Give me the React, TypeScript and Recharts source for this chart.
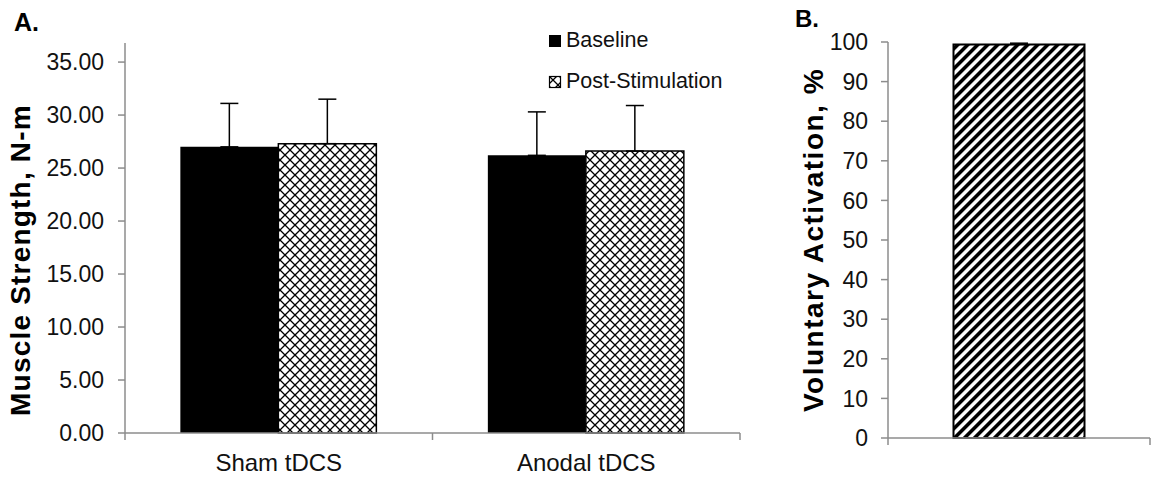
import React from 'react'
import { Bar, BarChart, ErrorBar, Label, XAxis, YAxis } from 'recharts'

// panel A: muscle strength
const conditions = ['Sham tDCS', 'Anodal tDCS']
const baseline = [27.0, 26.2]
const baselineErr = [4.1, 4.1]
const postStim = [27.3, 26.6]
const postStimErr = [4.2, 4.3]
const strengthTicks = [0, 5, 10, 15, 20, 25, 30, 35]

// panel B: voluntary activation
const activation = [99.4]
const activationErr = [0.3]
const activationTicks = [0, 10, 20, 30, 40, 50, 60, 70, 80, 90, 100]

const strengthData = conditions.map((c, i) => ({
  name: c,
  baseline: baseline[i],
  baselineErr: [0, baselineErr[i]],
  postStim: postStim[i],
  postStimErr: [0, postStimErr[i]],
}))

const activationData = activation.map((v, i) => ({
  name: '',
  value: v,
  err: [0, activationErr[i]],
}))

const FONT = '"Liberation Sans", Arial, Helvetica, sans-serif'
const AXIS = '#8c8c8c'

// excel style category axis: ticks on the category boundaries
const BoundaryTick = (props: any) => {
  const { x, y, index, visibleTicksCount, width, payload, showText } = props
  const band = width / visibleTicksCount
  const left = x - band / 2
  const right = x + band / 2
  return (
    <g>
      <line x1={left} y1={y} x2={left} y2={y + 7} stroke={AXIS} strokeWidth={1.5} />
      {index === visibleTicksCount - 1 && (
        <line x1={right} y1={y} x2={right} y2={y + 7} stroke={AXIS} strokeWidth={1.5} />
      )}
      {showText && (
        <text x={x} y={y + 29} textAnchor="middle" dominantBaseline="central" fontSize={24} fill="#111" fontFamily={FONT}>
          {payload.value}
        </text>
      )}
    </g>
  )
}

const LegendBox = () => (
  <div style={{ fontFamily: FONT, fontSize: 21.5, color: '#111', lineHeight: '41px' }}>
    <div style={{ display: 'flex', alignItems: 'center' }}>
      <svg width={14} height={14} style={{ marginRight: 4 }}>
        <rect x={1} y={1} width={12} height={12} fill="#000" />
      </svg>
      Baseline
    </div>
    <div style={{ display: 'flex', alignItems: 'center' }}>
      <svg width={14} height={14} style={{ marginRight: 4 }}>
        <rect x={1.5} y={1.5} width={11} height={11} fill="url(#crosshatch)" stroke="#000" strokeWidth={1.2} />
      </svg>
      Post-Stimulation
    </div>
  </div>
)

const App = () => {
  return (
    <div style={{ position: 'absolute', left: 0, top: 0, width: 1153, height: 477, background: '#fff', fontFamily: FONT }}>
      <svg width={0} height={0} style={{ position: 'absolute' }}>
        <defs>
          <pattern id="crosshatch" patternUnits="userSpaceOnUse" width={10} height={10}>
            <rect width={10} height={10} fill="#fff" />
            <path d="M0,0 L10,10 M10,0 L0,10" stroke="#000" strokeWidth={1.3} />
          </pattern>
          <pattern id="diagonal" patternUnits="userSpaceOnUse" width={7.07} height={7.07} patternTransform="rotate(45)">
            <rect width={7.07} height={7.07} fill="#fff" />
            <rect width={3.6} height={7.07} fill="#000" />
          </pattern>
        </defs>
      </svg>

      <div style={{ position: 'absolute', left: 14, top: 8, fontSize: 25, fontWeight: 'bold', color: '#000' }}>A.</div>
      <div style={{ position: 'absolute', left: 795, top: 5, fontSize: 24, fontWeight: 'bold', color: '#000' }}>B.</div>
      <div style={{ position: 'absolute', left: 548, top: 20, width: 200 }}>
        <LegendBox />
      </div>

      <div style={{ position: 'absolute', left: 0, top: 0 }}>
        <BarChart
          width={760}
          height={477}
          data={strengthData}
          margin={{ top: 43, right: 20, left: 0, bottom: 0 }}
          barCategoryGap="18%"
          barGap={0}
        >
          <XAxis
            dataKey="name"
            height={44}
            tickSize={0}
            tickMargin={0}
            interval={0}
            stroke={AXIS}
            strokeWidth={1.5}
            tick={<BoundaryTick showText />}
          />
          <YAxis
            width={125}
            domain={[0, 36.8]}
            ticks={strengthTicks}
            tickFormatter={(v: number) => v.toFixed(2)}
            stroke={AXIS}
            strokeWidth={1.5}
            tickSize={7}
            tickMargin={14}
            tick={{ fontSize: 23, fill: '#111', fontFamily: FONT }}
          >
            <Label
              content={() => (
                <text x={20} y={260} transform="rotate(-90 20 260)" textAnchor="middle" dominantBaseline="central"
                  fontSize={28} letterSpacing={1.2} fontWeight="bold" fill="#000" fontFamily={FONT}>
                  Muscle Strength, N-m
                </text>
              )}
            />
          </YAxis>
          <Bar dataKey="baseline" name="Baseline" fill="#000" isAnimationActive={false}>
            <ErrorBar dataKey="baselineErr" direction="y" width={9} stroke="#000" strokeWidth={1.5} />
          </Bar>
          <Bar dataKey="postStim" name="Post-Stimulation" fill="url(#crosshatch)" stroke="#000" strokeWidth={1.5} isAnimationActive={false}>
            <ErrorBar dataKey="postStimErr" direction="y" width={9} stroke="#000" strokeWidth={1.5} />
          </Bar>
        </BarChart>
      </div>

      <div style={{ position: 'absolute', left: 760, top: 0 }}>
        <BarChart
          width={393}
          height={477}
          data={activationData}
          margin={{ top: 42, right: 3, left: 0, bottom: 0 }}
          barCategoryGap="25%"
        >
          <XAxis
            dataKey="name"
            height={39}
            tickSize={0}
            tickMargin={0}
            interval={0}
            stroke={AXIS}
            strokeWidth={1.5}
            tick={<BoundaryTick />}
          />
          <YAxis
            width={128}
            domain={[0, 100]}
            ticks={activationTicks}
            stroke={AXIS}
            strokeWidth={1.5}
            tickSize={7}
            tickMargin={13}
            tick={{ fontSize: 23, fill: '#111', fontFamily: FONT }}
          >
            <Label
              content={() => (
                <text x={53} y={240} transform="rotate(-90 53 240)" textAnchor="middle" dominantBaseline="central"
                  fontSize={28} letterSpacing={1.5} fontWeight="bold" fill="#000" fontFamily={FONT}>
                  Voluntary Activation, %
                </text>
              )}
            />
          </YAxis>
          <Bar dataKey="value" fill="url(#diagonal)" stroke="#000" strokeWidth={2} isAnimationActive={false}>
            <ErrorBar dataKey="err" direction="y" width={9} stroke="#000" strokeWidth={1.5} />
          </Bar>
        </BarChart>
      </div>
    </div>
  )
}

export default App
